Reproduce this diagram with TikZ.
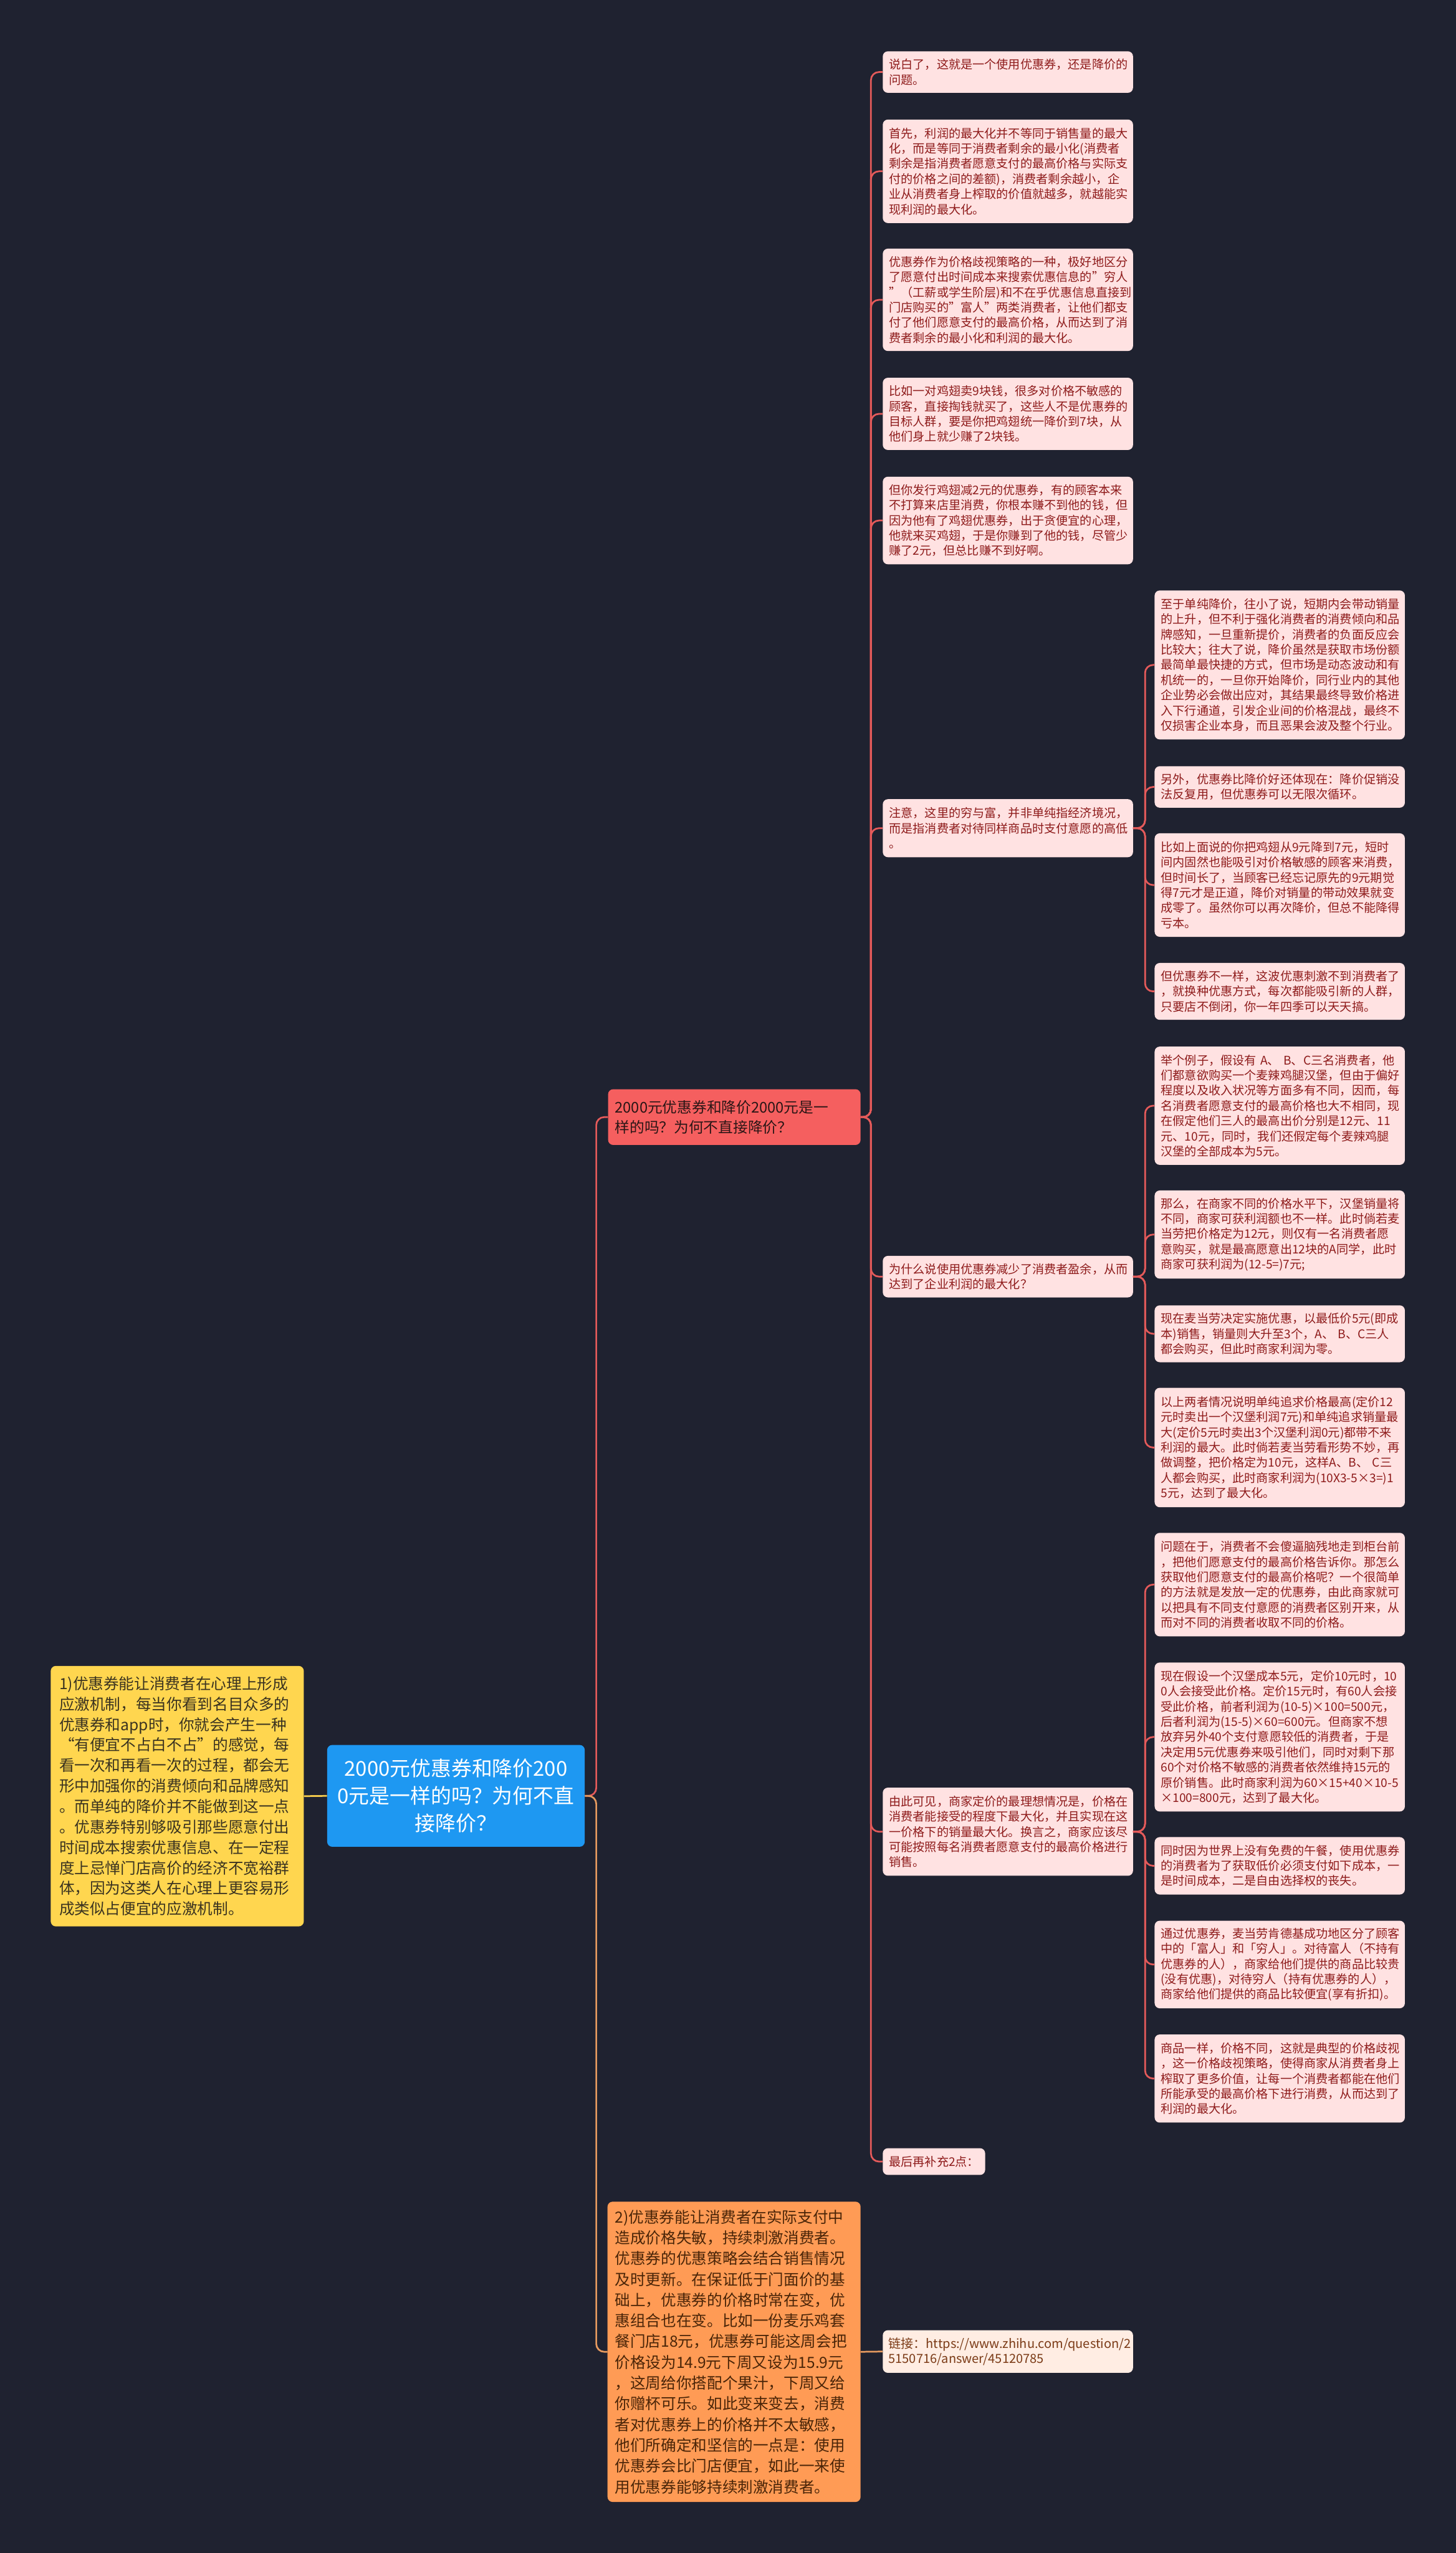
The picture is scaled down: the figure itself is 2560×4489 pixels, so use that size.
\documentclass[tikz,border=0pt]{standalone}
\usepackage{fontspec}
\setmainfont{Noto Sans CJK SC}
\definecolor{bgcol}{HTML}{1F2230}
\definecolor{pinkfill}{HTML}{FFE2E2}
\definecolor{pinktext}{HTML}{8E1B1B}
\definecolor{redfill}{HTML}{F55F5F}
\definecolor{redtext}{HTML}{2B1616}
\definecolor{orangefill}{HTML}{FF9B55}
\definecolor{orangetext}{HTML}{4A2508}
\definecolor{linkfill}{HTML}{FFEDE3}
\definecolor{linktext}{HTML}{7B3B17}
\definecolor{yellowfill}{HTML}{FFD64F}
\definecolor{yellowtext}{HTML}{3A3320}
\definecolor{bluefill}{HTML}{1E98F2}
\definecolor{redline}{HTML}{E45A5A}
\definecolor{orangeline}{HTML}{E69A5F}
\definecolor{yellowline}{HTML}{F2C94C}
\tikzset{
  leaf/.style={rectangle, rounded corners=9pt, fill=pinkfill, text=pinktext, anchor=north west, align=left, inner xsep=11pt, inner ysep=0pt, text width=418pt, font=\fontsize{21}{26.7}\selectfont},
  linkbox/.style={leaf, fill=linkfill, text=linktext, font=\fontsize{22}{27}\selectfont, inner xsep=10pt, text width=420pt},
  redbox/.style={rectangle, rounded corners=9pt, fill=redfill, text=redtext, anchor=north west, align=left, inner xsep=12pt, inner ysep=0pt, text width=420pt, minimum height=98pt, font=\fontsize{26}{35}\selectfont},
  orangebox/.style={rectangle, rounded corners=9pt, fill=orangefill, text=orangetext, anchor=north west, align=left, inner xsep=13pt, inner ysep=0pt, text width=419pt, minimum height=528pt, font=\fontsize{27}{36.5}\selectfont},
  yellowbox/.style={rectangle, rounded corners=9pt, fill=yellowfill, text=yellowtext, anchor=north west, align=left, inner xsep=15pt, inner ysep=0pt, text width=415pt, minimum height=458pt, font=\fontsize{27}{36}\selectfont},
  bluebox/.style={rectangle, rounded corners=9pt, fill=bluefill, text=white, anchor=north west, align=center, inner xsep=14pt, inner ysep=0pt, text width=425pt, minimum height=179pt, font=\fontsize{36}{48}\selectfont},
  rline/.style={draw=redline, line width=3pt, rounded corners=14pt},
  oline/.style={draw=orangeline, line width=3pt, rounded corners=14pt},
  yline/.style={draw=yellowline, line width=3pt}
}
\begin{document}
\begin{tikzpicture}[x=1pt,y=-1pt]
\useasboundingbox (0,0) rectangle (2560,4489);
\fill[bgcol] (0,0) rectangle (2560,4489);

% main nodes
\node[bluebox] (blue) at (575,3068) {2000元优惠券和降价200\\0元是一样的吗？为何不直\\接降价？};
\node[yellowbox] (yellow) at (89,2929) {1)优惠券能让消费者在心理上形成\\应激机制，每当你看到名目众多的\\优惠券和app时，你就会产生一种\\“有便宜不占白不占”的感觉，每\\看一次和再看一次的过程，都会无\\形中加强你的消费倾向和品牌感知\\。而单纯的降价并不能做到这一点\\。优惠券特别够吸引那些愿意付出\\时间成本搜索优惠信息、在一定程\\度上忌惮门店高价的经济不宽裕群\\体，因为这类人在心理上更容易形\\成类似占便宜的应激机制。};
\node[redbox] (red) at (1069,1915) {2000元优惠券和降价2000元是一\\样的吗？为何不直接降价？};
\node[orangebox] (orange) at (1068,3871) {2)优惠券能让消费者在实际支付中\\造成价格失敏，持续刺激消费者。\\优惠券的优惠策略会结合销售情况\\及时更新。在保证低于门面价的基\\础上，优惠券的价格时常在变，优\\惠组合也在变。比如一份麦乐鸡套\\餐门店18元，优惠券可能这周会把\\价格设为14.9元下周又设为15.9元\\，这周给你搭配个果汁，下周又给\\你赠杯可乐。如此变来变去，消费\\者对优惠券上的价格并不太敏感，\\他们所确定和坚信的一点是：使用\\优惠券会比门店便宜，如此一来使\\用优惠券能够持续刺激消费者。};

% level 2
\node[leaf, minimum height=73pt] (b1) at (1552,90) {说白了，这就是一个使用优惠券，还是降价的\\问题。};
\node[leaf, minimum height=182pt] (b2) at (1552,210) {首先，利润的最大化并不等同于销售量的最大\\化，而是等同于消费者剩余的最小化(消费者\\剩余是指消费者愿意支付的最高价格与实际支\\付的价格之间的差额)，消费者剩余越小，企\\业从消费者身上榨取的价值就越多，就越能实\\现利润的最大化。};
\node[leaf, minimum height=180pt] (b3) at (1552,437) {优惠券作为价格歧视策略的一种，极好地区分\\了愿意付出时间成本来搜索优惠信息的”穷人\\”（工薪或学生阶层)和不在乎优惠信息直接到\\门店购买的”富人”两类消费者，让他们都支\\付了他们愿意支付的最高价格，从而达到了消\\费者剩余的最小化和利润的最大化。};
\node[leaf, minimum height=127pt] (b4) at (1552,664) {比如一对鸡翅卖9块钱，很多对价格不敏感的\\顾客，直接掏钱就买了，这些人不是优惠券的\\目标人群，要是你把鸡翅统一降价到7块，从\\他们身上就少赚了2块钱。};
\node[leaf, minimum height=154pt] (b5) at (1552,838) {但你发行鸡翅减2元的优惠券，有的顾客本来\\不打算来店里消费，你根本赚不到他的钱，但\\因为他有了鸡翅优惠券，出于贪便宜的心理，\\他就来买鸡翅，于是你赚到了他的钱，尽管少\\赚了2元，但总比赚不到好啊。};
\node[leaf, minimum height=102pt] (b6) at (1552,1405) {注意，这里的穷与富，并非单纯指经济境况，\\而是指消费者对待同样商品时支付意愿的高低\\。};
\node[leaf, minimum height=73pt] (b7) at (1552,2208) {为什么说使用优惠券减少了消费者盈余，从而\\达到了企业利润的最大化？};
\node[leaf, minimum height=155pt] (b8) at (1552,3143) {由此可见，商家定价的最理想情况是，价格在\\消费者能接受的程度下最大化，并且实现在这\\一价格下的销量最大化。换言之，商家应该尽\\可能按照每名消费者愿意支付的最高价格进行\\销售。};
\node[leaf, minimum height=47pt, text width=158pt] (b9) at (1552,3777) {最后再补充2点：};
\node[linkbox, minimum height=75pt] (link) at (1552,4097) {链接：https://www.zhihu.com/question/2\\5150716/answer/45120785};

% level 3
\node[leaf, minimum height=262pt] (ca) at (2030,1038) {至于单纯降价，往小了说，短期内会带动销量\\的上升，但不利于强化消费者的消费倾向和品\\牌感知，一旦重新提价，消费者的负面反应会\\比较大；往大了说，降价虽然是获取市场份额\\最简单最快捷的方式，但市场是动态波动和有\\机统一的，一旦你开始降价，同行业内的其他\\企业势必会做出应对，其结果最终导致价格进\\入下行通道，引发企业间的价格混战，最终不\\仅损害企业本身，而且恶果会波及整个行业。};
\node[leaf, minimum height=73pt] (cb) at (2030,1347) {另外，优惠券比降价好还体现在：降价促销没\\法反复用，但优惠券可以无限次循环。};
\node[leaf, minimum height=182pt] (cc) at (2030,1465) {比如上面说的你把鸡翅从9元降到7元，短时\\间内固然也能吸引对价格敏感的顾客来消费，\\但时间长了，当顾客已经忘记原先的9元期觉\\得7元才是正道，降价对销量的带动效果就变\\成零了。虽然你可以再次降价，但总不能降得\\亏本。};
\node[leaf, minimum height=100pt] (cd) at (2030,1693) {但优惠券不一样，这波优惠刺激不到消费者了\\，就换种优惠方式，每次都能吸引新的人群，\\只要店不倒闭，你一年四季可以天天搞。};
\node[leaf, minimum height=208pt] (ce) at (2030,1840) {举个例子，假设有~A、~B、C三名消费者，他\\们都意欲购买一个麦辣鸡腿汉堡，但由于偏好\\程度以及收入状况等方面多有不同，因而，每\\名消费者愿意支付的最高价格也大不相同，现\\在假定他们三人的最高出价分别是12元、11\\元、10元，同时，我们还假定每个麦辣鸡腿\\汉堡的全部成本为5元。};
\node[leaf, minimum height=155pt] (cf) at (2030,2093) {那么，在商家不同的价格水平下，汉堡销量将\\不同，商家可获利润额也不一样。此时倘若麦\\当劳把价格定为12元，则仅有一名消费者愿\\意购买，就是最高愿意出12块的A同学，此时\\商家可获利润为(12-5=)7元;};
\node[leaf, minimum height=100pt] (cg) at (2030,2295) {现在麦当劳决定实施优惠，以最低价5元(即成\\本)销售，销量则大升至3个，A、~B、C三人\\都会购买，但此时商家利润为零。};
\node[leaf, minimum height=210pt] (ch) at (2030,2440) {以上两者情况说明单纯追求价格最高(定价12\\元时卖出一个汉堡利润7元)和单纯追求销量最\\大(定价5元时卖出3个汉堡利润0元)都带不来\\利润的最大。此时倘若麦当劳看形势不妙，再\\做调整，把价格定为10元，这样A、B、~C三\\人都会购买，此时商家利润为(10X3-5×3=)1\\5元，达到了最大化。};
\node[leaf, minimum height=182pt] (ci) at (2030,2695) {问题在于，消费者不会傻逼脑残地走到柜台前\\，把他们愿意支付的最高价格告诉你。那怎么\\获取他们愿意支付的最高价格呢？一个很简单\\的方法就是发放一定的优惠券，由此商家就可\\以把具有不同支付意愿的消费者区别开来，从\\而对不同的消费者收取不同的价格。};
\node[leaf, minimum height=262pt] (cj) at (2030,2923) {现在假设一个汉堡成本5元，定价10元时，10\\0人会接受此价格。定价15元时，有60人会接\\受此价格，前者利润为(10-5)×100=500元，\\后者利润为(15-5)×60=600元。但商家不想\\放弃另外40个支付意愿较低的消费者，于是\\决定用5元优惠券来吸引他们，同时对剩下那\\60个对价格不敏感的消费者依然维持15元的\\原价销售。此时商家利润为60×15+40×10-5\\×100=800元，达到了最大化。};
\node[leaf, minimum height=101pt] (ck) at (2030,3230) {同时因为世界上没有免费的午餐，使用优惠券\\的消费者为了获取低价必须支付如下成本，一\\是时间成本，二是自由选择权的丧失。};
\node[leaf, minimum height=154pt] (cl) at (2030,3377) {通过优惠券，麦当劳肯德基成功地区分了顾客\\中的「富人」和「穷人」。对待富人（不持有\\优惠券的人），商家给他们提供的商品比较贵\\(没有优惠)，对待穷人（持有优惠券的人），\\商家给他们提供的商品比较便宜(享有折扣)。};
\node[leaf, minimum height=155pt] (cm) at (2030,3577) {商品一样，价格不同，这就是典型的价格歧视\\，这一价格歧视策略，使得商家从消费者身上\\榨取了更多价值，让每一个消费者都能在他们\\所能承受的最高价格下进行消费，从而达到了\\利润的最大化。};

% connectors
\draw[yline] (yellow.east) -- (blue.west);
\draw[rline] (blue.east) -- ++(20,0) |- (red.west);
\draw[oline] (blue.east) -- ++(20,0) |- (orange.west);
\draw[oline] (orange.east) -- (link.west);
\foreach \c in {b1,b2,b3,b4,b5,b6,b7,b8,b9}
  \draw[rline] (red.east) -- ++(18,0) |- (\c.west);
\foreach \c in {ca,cb,cc,cd}
  \draw[rline] (b6.east) -- ++(21,0) |- (\c.west);
\foreach \c in {ce,cf,cg,ch}
  \draw[rline] (b7.east) -- ++(21,0) |- (\c.west);
\foreach \c in {ci,cj,ck,cl,cm}
  \draw[rline] (b8.east) -- ++(21,0) |- (\c.west);
\end{tikzpicture}
\end{document}
